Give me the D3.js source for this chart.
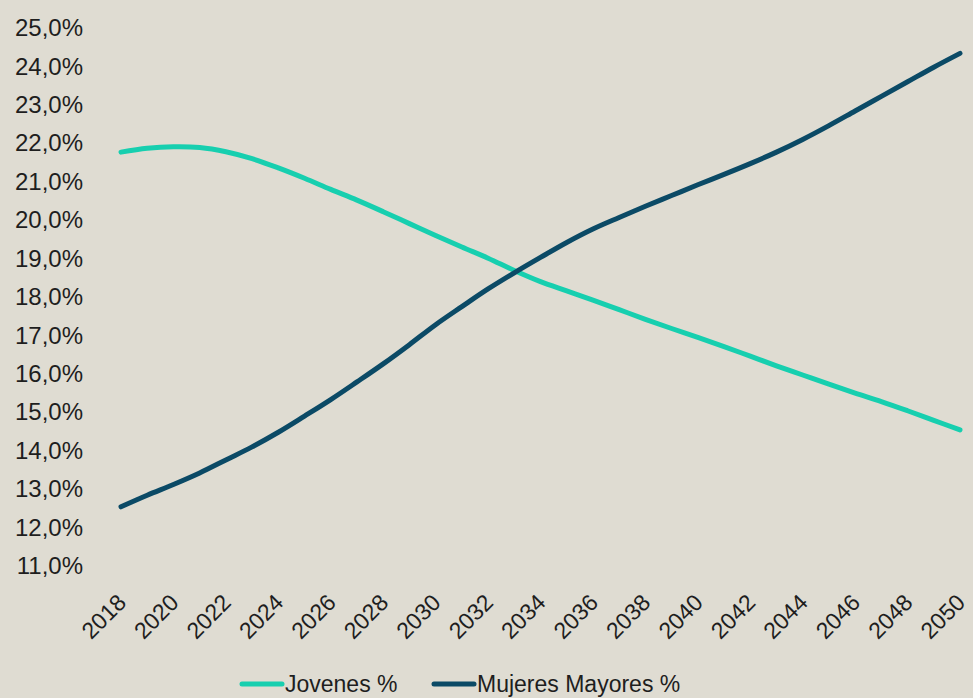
<!DOCTYPE html>
<html>
<head>
<meta charset="utf-8">
<script src="https://cdn.jsdelivr.net/npm/d3@7"></script>
<style>
  html, body { margin: 0; padding: 0; background: #dfdcd2; }
  svg { display: block; }
</style>
</head>
<body>
<svg></svg>
<script>
// basic parameters
const svgWidth = 973
const svgHeight = 698

// data
const years = [2018, 2019, 2020, 2021, 2022, 2023, 2024, 2025, 2026, 2027, 2028,
  2029, 2030, 2031, 2032, 2033, 2034, 2035, 2036, 2037, 2038, 2039, 2040,
  2041, 2042, 2043, 2044, 2045, 2046, 2047, 2048, 2049, 2050]
const jovenes = [21.77, 21.87, 21.91, 21.89, 21.78, 21.60, 21.36, 21.09, 20.80, 20.52, 20.22,
  19.91, 19.60, 19.30, 19.01, 18.69, 18.40, 18.16, 17.92, 17.67, 17.42, 17.18, 16.95,
  16.71, 16.46, 16.21, 15.97, 15.73, 15.50, 15.28, 15.04, 14.79, 14.54]
const mujeresMayores = [12.54, 12.84, 13.12, 13.42, 13.76, 14.10, 14.48, 14.90, 15.33, 15.79, 16.26,
  16.76, 17.28, 17.75, 18.21, 18.63, 19.03, 19.42, 19.77, 20.07, 20.36, 20.64, 20.92,
  21.19, 21.47, 21.77, 22.10, 22.46, 22.84, 23.22, 23.60, 23.98, 24.34]
const yTicks = [11, 12, 13, 14, 15, 16, 17, 18, 19, 20, 21, 22, 23, 24, 25]
const xTicks = years.filter(y => y % 2 === 0)
const seriesNames = ["Jovenes %", "Mujeres Mayores %"]
const seriesColors = ["#17cfaf", "#0b4a66"]

const series = [jovenes, mujeresMayores].map((vals, i) => ({
  name: seriesNames[i],
  color: seriesColors[i],
  values: years.map((y, j) => ({ year: y, value: vals[j] }))
}))

var svg = d3.select("svg")
  .attr("width", svgWidth)
  .attr("height", svgHeight)

// scales
var xScale = d3.scaleLinear().domain([2018, 2050]).range([121, 960])
var yScale = d3.scaleLinear().domain([11, 25]).range([566, 28])

const locale = d3.formatLocale({ decimal: ",", thousands: ".", grouping: [3], currency: ["", "€"] })
const pct = locale.format(".1f")

// y axis
var yAxis = d3.axisLeft(yScale)
  .tickValues(yTicks)
  .tickSize(0)
  .tickPadding(0)
  .tickFormat(d => pct(d) + "%")

svg.append("g")
  .attr("class", "yaxis")
  .attr("transform", "translate(83,0)")
  .call(yAxis)
  .call(g => g.select(".domain").remove())
  .selectAll("text")
    .attr("font-family", "Liberation Sans, Arial, sans-serif")
    .attr("font-size", 24)
    .attr("fill", "#1e1e1e")

// x axis (rotated labels)
var xAxis = d3.axisBottom(xScale)
  .tickValues(xTicks)
  .tickSize(0)
  .tickFormat(d3.format("d"))

svg.append("g")
  .attr("class", "xaxis")
  .attr("transform", "translate(0,604)")
  .call(xAxis)
  .call(g => g.select(".domain").remove())
  .selectAll("text")
    .attr("font-family", "Liberation Sans, Arial, sans-serif")
    .attr("font-size", 23)
    .attr("fill", "#1e1e1e")
    .attr("text-anchor", "end")
    .attr("y", 0)
    .attr("dy", 0)
    .attr("transform", "translate(6,0) rotate(-45)")

// lines
var line = d3.line()
  .x(d => xScale(d.year))
  .y(d => yScale(d.value))
  .curve(d3.curveCatmullRom)

svg.selectAll("path.series")
  .data(series)
  .enter()
  .append("path")
    .attr("class", "series")
    .attr("fill", "none")
    .attr("stroke", d => d.color)
    .attr("stroke-width", 5)
    .attr("stroke-linecap", "round")
    .attr("stroke-linejoin", "round")
    .attr("d", d => line(d.values))

// legend, kept just inside the bottom edge
const legendX = [240, 432]
var legend = svg.selectAll("g.legend")
  .data(series)
  .enter()
  .append("g")
    .attr("class", "legend")
    .attr("transform", (d, i) => "translate(" + legendX[i] + ",684)")

legend.append("line")
  .attr("x1", 2).attr("x2", 42)
  .attr("y1", 0).attr("y2", 0)
  .attr("stroke", d => d.color)
  .attr("stroke-width", 5)
  .attr("stroke-linecap", "round")

legend.append("text")
  .attr("x", 45)
  .attr("y", 8)
  .attr("font-family", "Liberation Sans, Arial, sans-serif")
  .attr("font-size", 23)
  .attr("fill", "#1e1e1e")
  .text(d => d.name)
</script>
</body>
</html>
